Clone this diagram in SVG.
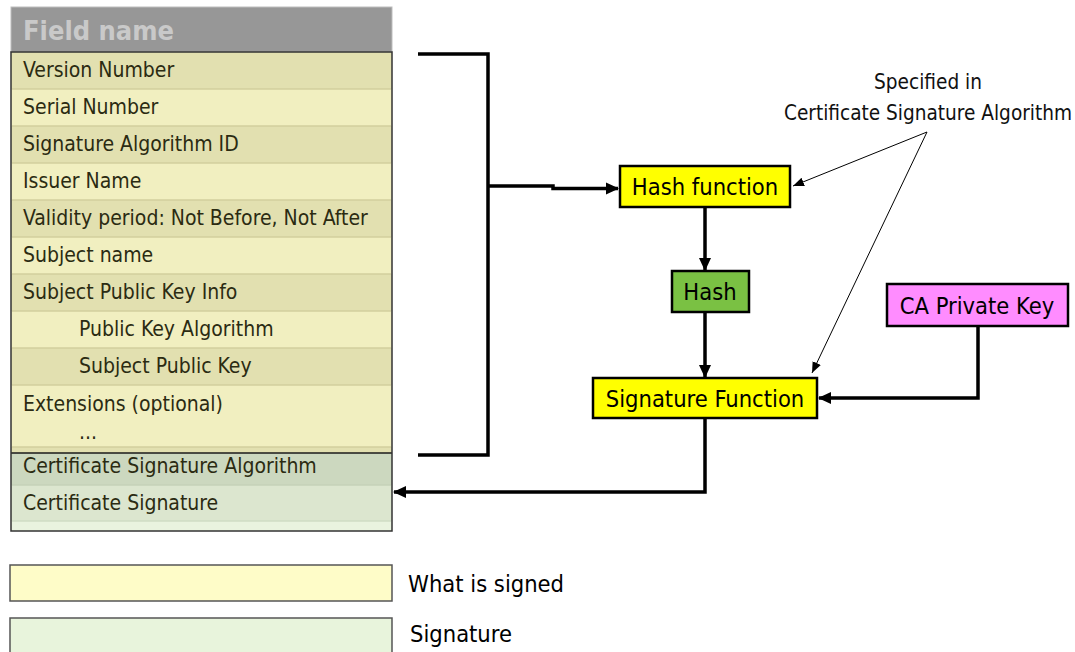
<svg xmlns="http://www.w3.org/2000/svg" width="1075" height="652" viewBox="0 0 1075 652">
  <style>
    .cell { font-family: "DejaVu Sans Condensed", "DejaVu Sans", sans-serif; font-stretch: condensed; font-size: 21px; fill: #2b2b12; }
    .lbl { font-family: "DejaVu Sans Condensed", "DejaVu Sans", sans-serif; font-stretch: condensed; font-size: 23.5px; fill: #000; }
    .note { font-family: "DejaVu Sans Condensed", "DejaVu Sans", sans-serif; font-stretch: condensed; font-size: 20.6px; fill: #111; text-anchor: middle; }
    .rowA { fill: #e2e0b0; }
    .rowB { fill: #f1efc0; }
    .sep { stroke: #d2cf9e; stroke-width: 1.5; }
    .box { stroke: #000; stroke-width: 2.5; }
    .thick { fill: none; stroke: #000; stroke-width: 3.5; }
    .thin { fill: none; stroke: #000; stroke-width: 1; }
  </style>
  <defs>
    <marker id="arrowBold" markerUnits="userSpaceOnUse" markerWidth="14" markerHeight="14" refX="12" refY="7" orient="auto">
      <path d="M0,1 L13,7 L0,13 Z" fill="#000"/>
    </marker>
    <marker id="arrowThin" markerUnits="userSpaceOnUse" markerWidth="12" markerHeight="10" refX="11" refY="5" orient="auto">
      <path d="M0,0.5 L11,5 L0,9.5 Z" fill="#000"/>
    </marker>
  </defs>
  <rect width="1075" height="652" fill="#fff"/>

  <!-- certificate field table -->
  <g id="table">
    <rect x="11" y="7" width="381" height="45" fill="#979797" stroke="#bdbdbd" stroke-width="1"/>
    <text x="23" y="40" font-family="DejaVu Sans Condensed, DejaVu Sans, sans-serif" font-stretch="condensed" font-size="27" font-weight="bold" fill="#c9c9c9">Field name</text>

    <rect class="rowA" x="11" y="52" width="381" height="37"/>
    <rect class="rowB" x="11" y="89" width="381" height="37"/>
    <rect class="rowA" x="11" y="126" width="381" height="37"/>
    <rect class="rowB" x="11" y="163" width="381" height="37"/>
    <rect class="rowA" x="11" y="200" width="381" height="37"/>
    <rect class="rowB" x="11" y="237" width="381" height="37"/>
    <rect class="rowA" x="11" y="274" width="381" height="37"/>
    <rect class="rowB" x="11" y="311" width="381" height="37"/>
    <rect class="rowA" x="11" y="348" width="381" height="37"/>
    <rect class="rowB" x="11" y="385" width="381" height="62"/>
    <rect class="rowA" x="11" y="447" width="381" height="6"/>
    <rect x="11" y="453" width="381" height="32" fill="#ccd8bf"/>
    <rect x="11" y="485" width="381" height="36" fill="#dce6cf"/>
    <rect x="11" y="521" width="381" height="10" fill="#e9f3df"/>

    <g class="sep">
      <line x1="12" y1="89" x2="391" y2="89"/>
      <line x1="12" y1="126" x2="391" y2="126"/>
      <line x1="12" y1="163" x2="391" y2="163"/>
      <line x1="12" y1="200" x2="391" y2="200"/>
      <line x1="12" y1="237" x2="391" y2="237"/>
      <line x1="12" y1="274" x2="391" y2="274"/>
      <line x1="12" y1="311" x2="391" y2="311"/>
      <line x1="12" y1="348" x2="391" y2="348"/>
      <line x1="12" y1="385" x2="391" y2="385"/>
      <line x1="12" y1="447" x2="391" y2="447"/>
      <line x1="12" y1="485" x2="391" y2="485" stroke="#c6d2b8"/>
      <line x1="12" y1="521" x2="391" y2="521" stroke="#cfdcc4"/>
    </g>
    <line x1="11" y1="453" x2="392" y2="453" stroke="#1a1a1a" stroke-width="1.5"/>
    <rect x="11" y="52" width="381" height="479" fill="none" stroke="#333" stroke-width="1.5"/>

    <text class="cell" x="23" y="77">Version Number</text>
    <text class="cell" x="23" y="114">Serial Number</text>
    <text class="cell" x="23" y="151">Signature Algorithm ID</text>
    <text class="cell" x="23" y="188">Issuer Name</text>
    <text class="cell" x="23" y="225">Validity period: Not Before, Not After</text>
    <text class="cell" x="23" y="262">Subject name</text>
    <text class="cell" x="23" y="299">Subject Public Key Info</text>
    <text class="cell" x="79" y="336">Public Key Algorithm</text>
    <text class="cell" x="79" y="373">Subject Public Key</text>
    <text class="cell" x="23" y="411">Extensions (optional)</text>
    <text class="cell" x="79" y="439">...</text>
    <text class="cell" x="23" y="473">Certificate Signature Algorithm</text>
    <text class="cell" x="23" y="510">Certificate Signature</text>
  </g>

  <!-- connectors -->
  <g id="connectors">
    <path class="thick" d="M418,54 H488 V455 H418"/>
    <path class="thick" d="M488,186 H553 V188.5 H618" marker-end="url(#arrowBold)"/>
    <path class="thick" d="M705,207 V270" marker-end="url(#arrowBold)"/>
    <path class="thick" d="M705,312 V377" marker-end="url(#arrowBold)"/>
    <path class="thick" d="M978,326 V398 H819" marker-end="url(#arrowBold)"/>
    <path class="thick" d="M705,418 V492 H394" marker-end="url(#arrowBold)"/>
    <line class="thin" x1="927" y1="132" x2="793" y2="186" marker-end="url(#arrowThin)"/>
    <line class="thin" x1="927" y1="132" x2="812" y2="373" marker-end="url(#arrowThin)"/>
  </g>

  <text class="note" x="928" y="89">Specified in</text>
  <text class="note" x="928" y="120">Certificate Signature Algorithm</text>

  <g id="hash-function">
    <rect class="box" x="620" y="166" width="170" height="41" fill="#ffff00"/>
    <text class="lbl" x="705" y="195" text-anchor="middle">Hash function</text>
  </g>
  <g id="hash">
    <rect class="box" x="672" y="271" width="77" height="41" fill="#7ac143"/>
    <text class="lbl" x="710" y="300" text-anchor="middle">Hash</text>
  </g>
  <g id="ca-private-key">
    <rect class="box" x="887" y="284" width="181" height="42" fill="#ff8cff"/>
    <text class="lbl" x="977" y="314" text-anchor="middle">CA Private Key</text>
  </g>
  <g id="signature-function">
    <rect class="box" x="593" y="378" width="224" height="40" fill="#ffff00"/>
    <text class="lbl" x="705" y="407" text-anchor="middle">Signature Function</text>
  </g>

  <!-- legend -->
  <g id="legend-signed">
    <rect x="10" y="565" width="382" height="36" fill="#fefcc8" stroke="#555" stroke-width="1.5"/>
    <text class="lbl" x="408" y="592">What is signed</text>
  </g>
  <g id="legend-signature">
    <rect x="10" y="618" width="382" height="40" fill="#e8f4dc" stroke="#555" stroke-width="1.5"/>
    <text class="lbl" x="410" y="642">Signature</text>
  </g>
</svg>
